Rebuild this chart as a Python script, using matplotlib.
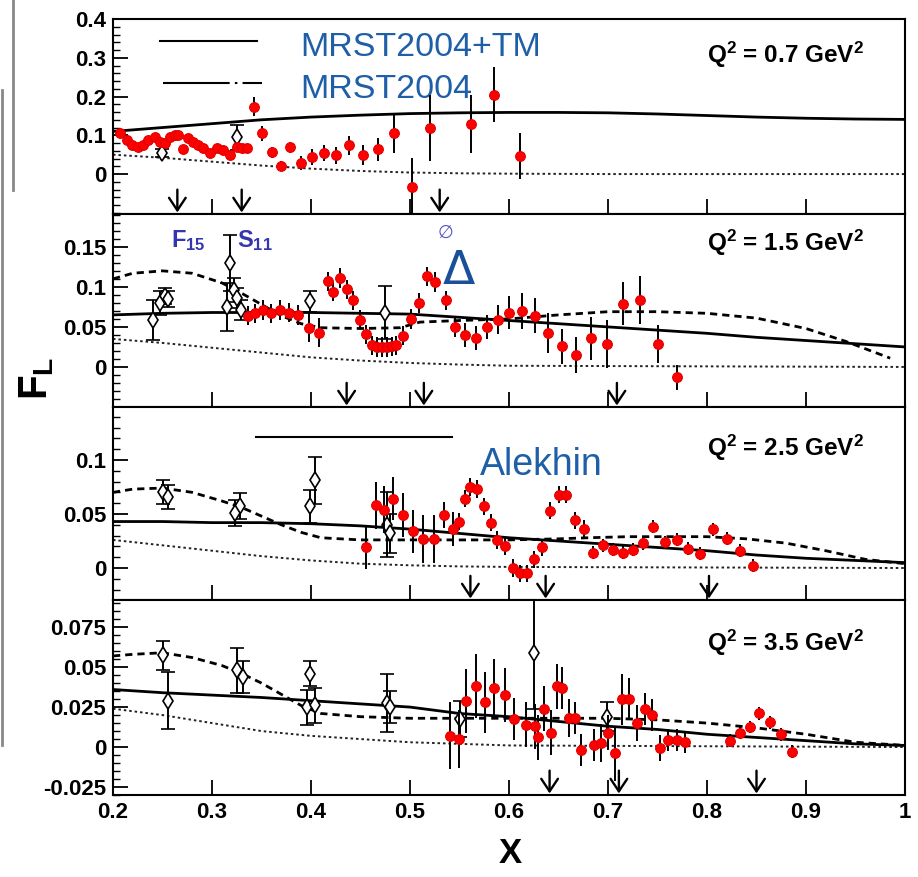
import matplotlib
matplotlib.use("Agg")
import matplotlib.pyplot as plt
import matplotlib.transforms as mtransforms
from matplotlib.ticker import MultipleLocator
from matplotlib.lines import Line2D

plt.rcParams['font.family'] = ['Liberation Sans', 'DejaVu Sans']
plt.rcParams['mathtext.default'] = 'regular'

# ---------------- Q2 = 0.7 GeV2 ----------------
p1_red_x = [0.207, 0.214, 0.219, 0.225, 0.230, 0.235, 0.242, 0.247, 0.253, 0.258, 0.263, 0.266,
            0.271, 0.276, 0.281, 0.286, 0.291, 0.298, 0.305, 0.311, 0.318, 0.325, 0.330, 0.335,
            0.342, 0.351, 0.361, 0.370, 0.379, 0.390, 0.401, 0.413, 0.425, 0.438, 0.453, 0.468,
            0.484, 0.502, 0.520, 0.562, 0.585, 0.611]
p1_red_y = [0.105, 0.087, 0.074, 0.069, 0.074, 0.087, 0.095, 0.082, 0.079, 0.095, 0.102, 0.100,
            0.064, 0.092, 0.082, 0.074, 0.067, 0.054, 0.067, 0.062, 0.049, 0.069, 0.067, 0.067,
            0.174, 0.105, 0.056, 0.021, 0.069, 0.028, 0.044, 0.054, 0.049, 0.074, 0.049, 0.064,
            0.105, -0.034, 0.118, 0.130, 0.205, 0.046]
p1_red_err = [0.010] * 24 + [0.025, 0.020, 0.015, 0.012, 0.015, 0.018, 0.020, 0.020, 0.022, 0.025,
                             0.025, 0.030, 0.050, 0.075, 0.085, 0.075, 0.070, 0.060]
p1_open_x = [0.249, 0.325]
p1_open_y = [0.054, 0.095]
p1_open_err = [0.010, 0.032]
p1_solid_x = [0.2, 0.25, 0.3, 0.35, 0.4, 0.45, 0.5, 0.55, 0.6, 0.65, 0.7, 0.75, 0.8, 0.85, 0.9, 0.95, 1.0]
p1_solid_y = [0.110, 0.120, 0.130, 0.140, 0.147, 0.152, 0.156, 0.158, 0.159, 0.159, 0.158, 0.155,
              0.151, 0.147, 0.144, 0.142, 0.141]
p1_dot_x = [0.2, 0.25, 0.3, 0.35, 0.4, 0.45, 0.5, 0.55, 0.6, 0.7, 1.0]
p1_dot_y = [0.050, 0.042, 0.032, 0.022, 0.014, 0.008, 0.004, 0.002, 0.001, 0.0, 0.0]
p1_arrows = [0.265, 0.330, 0.530]

# ---------------- Q2 = 1.5 GeV2 ----------------
p2_red_x = [0.336, 0.343, 0.352, 0.360, 0.369, 0.378, 0.387, 0.398, 0.408, 0.417, 0.422, 0.429,
            0.436, 0.442, 0.449, 0.456, 0.462, 0.467, 0.472, 0.477, 0.482, 0.486, 0.493, 0.501,
            0.509, 0.517, 0.525, 0.536, 0.545, 0.556, 0.567, 0.578, 0.589, 0.600, 0.613, 0.626,
            0.639, 0.654, 0.668, 0.683, 0.699, 0.715, 0.732, 0.750, 0.770]
p2_red_y = [0.064, 0.067, 0.071, 0.067, 0.071, 0.068, 0.065, 0.049, 0.043, 0.107, 0.094, 0.111,
            0.097, 0.083, 0.059, 0.041, 0.027, 0.025, 0.025, 0.025, 0.026, 0.027, 0.039, 0.060,
            0.080, 0.113, 0.106, 0.083, 0.050, 0.040, 0.036, 0.050, 0.059, 0.068, 0.070, 0.064,
            0.043, 0.026, 0.015, 0.036, 0.029, 0.079, 0.084, 0.029, -0.013]
p2_red_err = [0.012] * 7 + [0.018, 0.018] + [0.012] * 20 + \
             [0.015, 0.015, 0.015, 0.018, 0.020, 0.022, 0.022, 0.025, 0.022, 0.023, 0.027, 0.030,
              0.027, 0.030, 0.024, 0.016]
p2_open_x = [0.240, 0.247, 0.253, 0.256, 0.315, 0.318, 0.322, 0.325, 0.329, 0.399, 0.475]
p2_open_y = [0.059, 0.080, 0.089, 0.085, 0.075, 0.130, 0.096, 0.086, 0.071, 0.082, 0.068]
p2_open_err = [0.025, 0.015, 0.010, 0.010, 0.030, 0.035, 0.015, 0.012, 0.012, 0.013, 0.033]
p2_solid_x = [0.2, 0.25, 0.3, 0.35, 0.4, 0.45, 0.5, 0.55, 0.6, 0.65, 0.7, 0.75, 0.8, 0.85, 0.9, 0.95, 1.0]
p2_solid_y = [0.065, 0.067, 0.068, 0.068, 0.068, 0.067, 0.066, 0.062, 0.058, 0.054, 0.050, 0.046,
              0.042, 0.037, 0.033, 0.029, 0.025]
p2_dash_x = [0.2, 0.22, 0.25, 0.28, 0.31, 0.33, 0.35, 0.37, 0.39, 0.41, 0.45, 0.49, 0.51, 0.55,
             0.6, 0.65, 0.7, 0.75, 0.8, 0.85, 0.9, 0.94, 0.985]
p2_dash_y = [0.110, 0.117, 0.120, 0.117, 0.105, 0.092, 0.078, 0.064, 0.054, 0.049, 0.048, 0.049,
             0.056, 0.058, 0.060, 0.065, 0.069, 0.069, 0.067, 0.061, 0.048, 0.032, 0.011]
p2_dot_x = [0.2, 0.25, 0.3, 0.35, 0.4, 0.45, 0.5, 0.55, 0.6, 1.0]
p2_dot_y = [0.035, 0.030, 0.024, 0.018, 0.012, 0.008, 0.005, 0.003, 0.0015, 0.0]
p2_arrows = [0.436, 0.514, 0.709]

# ---------------- Q2 = 2.5 GeV2 ----------------
p3_red_x = [0.456, 0.466, 0.474, 0.483, 0.493, 0.503, 0.513, 0.524, 0.534, 0.543, 0.549, 0.556,
            0.561, 0.568, 0.575, 0.582, 0.588, 0.596, 0.604, 0.611, 0.618, 0.625, 0.633, 0.641,
            0.650, 0.658, 0.667, 0.676, 0.685, 0.695, 0.705, 0.715, 0.725, 0.735, 0.745, 0.758,
            0.770, 0.781, 0.793, 0.806, 0.820, 0.833, 0.846]
p3_red_y = [0.019, 0.058, 0.054, 0.064, 0.049, 0.034, 0.027, 0.027, 0.049, 0.036, 0.043, 0.064,
            0.075, 0.073, 0.057, 0.042, 0.026, 0.020, 0.000, -0.005, -0.005, 0.008, 0.019, 0.053,
            0.068, 0.068, 0.044, 0.036, 0.014, 0.021, 0.017, 0.014, 0.017, 0.023, 0.038, 0.024,
            0.026, 0.018, 0.013, 0.036, 0.027, 0.016, 0.002]
p3_red_err = [0.020, 0.022, 0.022, 0.020, 0.020, 0.020, 0.022, 0.022, 0.012, 0.016] + \
             [0.008] * 18 + [0.006] * 15
p3_open_x = [0.251, 0.256, 0.328, 0.323, 0.404, 0.399, 0.477, 0.480]
p3_open_y = [0.070, 0.066, 0.057, 0.051, 0.081, 0.057, 0.040, 0.032]
p3_open_err = [0.011, 0.011, 0.012, 0.012, 0.022, 0.015, 0.030, 0.018]
p3_solid_x = [0.2, 0.25, 0.3, 0.35, 0.4, 0.45, 0.5, 0.55, 0.6, 0.65, 0.7, 0.75, 0.8, 0.85, 0.9, 0.95, 1.0]
p3_solid_y = [0.043, 0.043, 0.042, 0.042, 0.041, 0.039, 0.036, 0.032, 0.028, 0.025, 0.022, 0.019,
              0.016, 0.012, 0.009, 0.007, 0.005]
p3_dash_x = [0.2, 0.22, 0.25, 0.28, 0.31, 0.33, 0.35, 0.37, 0.39, 0.41, 0.45, 0.5, 0.55, 0.6,
             0.65, 0.68, 0.72, 0.76, 0.8, 0.84, 0.88, 0.92, 0.96, 1.0]
p3_dash_y = [0.070, 0.073, 0.074, 0.070, 0.062, 0.056, 0.048, 0.040, 0.033, 0.028, 0.026, 0.026,
             0.026, 0.026, 0.027, 0.028, 0.029, 0.029, 0.029, 0.027, 0.023, 0.016, 0.008, 0.004]
p3_dot_x = [0.2, 0.25, 0.3, 0.35, 0.4, 0.45, 0.5, 0.55, 0.6, 1.0]
p3_dot_y = [0.026, 0.021, 0.016, 0.011, 0.007, 0.004, 0.0025, 0.0015, 0.001, 0.0]
p3_arrows = [0.561, 0.637, 0.802]

# ---------------- Q2 = 3.5 GeV2 ----------------
p4_red_x = [0.540, 0.549, 0.557, 0.567, 0.576, 0.585, 0.596, 0.605, 0.617, 0.626, 0.629, 0.635,
            0.642, 0.648, 0.654, 0.661, 0.667, 0.673, 0.686, 0.693, 0.700, 0.707, 0.714, 0.721,
            0.729, 0.737, 0.744, 0.753, 0.761, 0.770, 0.778, 0.823, 0.833, 0.843, 0.853, 0.864,
            0.875, 0.886]
p4_red_y = [0.007, 0.005, 0.029, 0.038, 0.028, 0.037, 0.0325, 0.0175, 0.014, 0.013, 0.006, 0.024,
            0.009, 0.038, 0.037, 0.018, 0.018, -0.002, 0.001, 0.0025, 0.009, -0.004, 0.030, 0.030,
            0.015, 0.024, 0.020, -0.0006, 0.0045, 0.0045, 0.003, 0.004, 0.009, 0.0125, 0.021,
            0.0155, 0.008, -0.003]
p4_red_err = [0.021, 0.018, 0.020, 0.020, 0.019, 0.018, 0.017, 0.013, 0.014, 0.014, 0.014, 0.014,
              0.014, 0.014, 0.013, 0.012, 0.010, 0.010, 0.010, 0.012, 0.011, 0.017, 0.016, 0.013,
              0.011, 0.010, 0.010, 0.008, 0.007, 0.007, 0.007, 0.004, 0.004, 0.004, 0.004, 0.004,
              0.004, 0.004]
p4_open_x = [0.250, 0.256, 0.325, 0.331, 0.399, 0.396, 0.404, 0.477, 0.480, 0.550, 0.625, 0.699]
p4_open_y = [0.0575, 0.029, 0.048, 0.044, 0.046, 0.025, 0.026, 0.0275, 0.025, 0.0175, 0.059, 0.019]
p4_open_err = [0.009, 0.018, 0.014, 0.010, 0.008, 0.011, 0.011, 0.018, 0.010, 0.011, 0.035, 0.009]
p4_solid_x = [0.2, 0.25, 0.3, 0.35, 0.4, 0.45, 0.5, 0.55, 0.6, 0.65, 0.7, 0.75, 0.8, 0.85, 0.9, 0.95, 1.0]
p4_solid_y = [0.036, 0.034, 0.0325, 0.031, 0.029, 0.027, 0.025, 0.021, 0.019, 0.016, 0.013, 0.011,
              0.008, 0.006, 0.004, 0.002, 0.001]
p4_dash_x = [0.2, 0.22, 0.25, 0.28, 0.31, 0.33, 0.35, 0.37, 0.39, 0.41, 0.45, 0.5, 0.55, 0.6,
             0.65, 0.7, 0.75, 0.8, 0.85, 0.9, 0.95, 1.0]
p4_dash_y = [0.057, 0.058, 0.059, 0.056, 0.051, 0.046, 0.040, 0.033, 0.026, 0.021, 0.019, 0.018,
             0.018, 0.018, 0.018, 0.018, 0.017, 0.015, 0.012, 0.008, 0.003, 0.001]
p4_dot_x = [0.2, 0.25, 0.3, 0.35, 0.4, 0.45, 0.5, 0.55, 0.6, 1.0]
p4_dot_y = [0.024, 0.020, 0.015, 0.010, 0.007, 0.005, 0.003, 0.002, 0.001, 0.0]
p4_arrows = [0.641, 0.711, 0.850]

# ---------------- axis setup ----------------
q2_labels = ["0.7", "1.5", "2.5", "3.5"]
x_ticks = [0.2, 0.3, 0.4, 0.5, 0.6, 0.7, 0.8, 0.9, 1.0]
x_ticklabels = ["0.2", "0.3", "0.4", "0.5", "0.6", "0.7", "0.8", "0.9", "1"]
y_limits = [(-0.103, 0.40), (-0.05, 0.191), (-0.0296, 0.149), (-0.030, 0.092)]
y_ticks = [[0, 0.1, 0.2, 0.3, 0.4], [0, 0.05, 0.1, 0.15], [0, 0.05, 0.1],
           [-0.025, 0, 0.025, 0.05, 0.075]]
y_ticklabels = [["0", "0.1", "0.2", "0.3", "0.4"], ["0", "0.05", "0.1", "0.15"],
                ["0", "0.05", "0.1"], ["-0.025", "0", "0.025", "0.05", "0.075"]]
y_minor = [0.02, 0.01, 0.01, 0.005]

fig = plt.figure(figsize=(9.18, 8.77), dpi=100)
H, W = 877.0, 918.0
left, width = 113 / W, 792 / W
panel_px = [(19, 214), (214, 407), (407, 600), (600, 795)]

panels = [
    dict(red=(p1_red_x, p1_red_y, p1_red_err), opn=(p1_open_x, p1_open_y, p1_open_err),
         solid=(p1_solid_x, p1_solid_y), dash=None, dot=(p1_dot_x, p1_dot_y), arrows=p1_arrows,
         qy=0.815),
    dict(red=(p2_red_x, p2_red_y, p2_red_err), opn=(p2_open_x, p2_open_y, p2_open_err),
         solid=(p2_solid_x, p2_solid_y), dash=(p2_dash_x, p2_dash_y), dot=(p2_dot_x, p2_dot_y),
         arrows=p2_arrows, qy=0.85),
    dict(red=(p3_red_x, p3_red_y, p3_red_err), opn=(p3_open_x, p3_open_y, p3_open_err),
         solid=(p3_solid_x, p3_solid_y), dash=(p3_dash_x, p3_dash_y), dot=(p3_dot_x, p3_dot_y),
         arrows=p3_arrows, qy=0.79),
    dict(red=(p4_red_x, p4_red_y, p4_red_err), opn=(p4_open_x, p4_open_y, p4_open_err),
         solid=(p4_solid_x, p4_solid_y), dash=(p4_dash_x, p4_dash_y), dot=(p4_dot_x, p4_dot_y),
         arrows=p4_arrows, qy=0.78),
]

axes = []
for i, p in enumerate(panels):
    top_px, bot_px = panel_px[i]
    ax = fig.add_axes([left, 1 - bot_px / H, width, (bot_px - top_px) / H])
    axes.append(ax)
    ax.set_xlim(0.2, 1.0)
    ax.set_ylim(*y_limits[i])
    for s in ax.spines.values():
        s.set_linewidth(1.5)

    # theory curves
    ax.plot(*p['dot'], color='#222222', lw=1.4, ls=(0, (1.3, 1.5)), zorder=2)
    if p['dash'] is not None:
        ax.plot(*p['dash'], color='black', lw=2.0, ls=(0, (2.6, 1.8)), zorder=2)
    ax.plot(*p['solid'], color='black', lw=2.0, zorder=2)

    # open-symbol data with capped error bars
    ox, oy, oe = p['opn']
    ax.errorbar(ox, oy, yerr=oe, fmt='d', ms=8, mfc='white', mec='black', mew=1.2,
                ecolor='black', elinewidth=1.4, capsize=5, capthick=1.4, zorder=3)
    # red data points
    rx, ry, re = p['red']
    ax.errorbar(rx, ry, yerr=re, fmt='o', ms=7, mfc='#ff0000', mec='#e00000', mew=0.8,
                ecolor='black', elinewidth=1.4, capsize=0, zorder=4)

    # resonance position arrows
    trans = mtransforms.blended_transform_factory(ax.transData, ax.transAxes)
    for xa in p['arrows']:
        ax.annotate('', xy=(xa, 0.008), xytext=(xa, 0.125), xycoords=trans, textcoords=trans,
                    arrowprops=dict(arrowstyle='->,head_length=0.9,head_width=0.6',
                                    lw=1.7, color='black', shrinkA=0, shrinkB=0), zorder=5)

    ax.text(0.75, p['qy'], "Q$^{2}$ = " + q2_labels[i] + " GeV$^{2}$", transform=ax.transAxes,
            fontsize=17.5, fontweight='bold', ha='left', va='center')

    ax.set_yticks(y_ticks[i])
    ax.set_yticklabels(y_ticklabels[i], fontsize=16, fontweight='bold')
    ax.yaxis.set_minor_locator(MultipleLocator(y_minor[i]))
    ax.set_xticks(x_ticks)
    if i == 3:
        ax.set_xticklabels(x_ticklabels, fontsize=16, fontweight='bold')
    else:
        ax.set_xticklabels([])
    ax.tick_params(axis='both', which='both', direction='in', top=False, right=False)
    ax.tick_params(axis='both', which='major', length=11, width=1.3, pad=5)
    ax.tick_params(axis='y', which='minor', length=5, width=1.0)
    ax.tick_params(axis='x', which='minor', bottom=False)

ax1, ax2, ax3, ax4 = axes
blue = '#1f5fa8'

# legend of the top panel
t1 = mtransforms.blended_transform_factory(ax1.transData, ax1.transAxes)
ax1.add_line(Line2D([0.2475, 0.3455], [0.887, 0.887], transform=t1, color='black', lw=1.5))
ax1.add_line(Line2D([0.2505, 0.3505], [0.672, 0.672], transform=t1, color='black', lw=1.5,
                    ls=(0, (32, 2.5, 1.2, 2.5, 15, 200))))
ax1.text(0.389, 0.855, "MRST2004+TM", transform=t1, fontsize=24.5, color=blue, ha='left', va='center')
ax1.text(0.389, 0.64, "MRST2004", transform=t1, fontsize=24.5, color=blue, ha='left', va='center')

# resonance labels
t2 = mtransforms.blended_transform_factory(ax2.transData, ax2.transAxes)
ax2.text(0.259, 0.865, "F$_{15}$", transform=t2, fontsize=17, fontweight='bold',
         color='#3535b0', ha='left', va='center')
ax2.text(0.325, 0.865, "S$_{11}$", transform=t2, fontsize=17, fontweight='bold',
         color='#3535b0', ha='left', va='center')
ax2.text(0.536, 0.90, "\u2205", transform=t2, fontsize=13, color='#5555c8',
         ha='center', va='center', family='DejaVu Sans')
ax2.text(0.549, 0.70, "\u0394", transform=t2, fontsize=34, color='#1a4f9a',
         ha='center', va='center', family='DejaVu Sans')

# Alekhin curve label
t3 = mtransforms.blended_transform_factory(ax3.transData, ax3.transAxes)
ax3.add_line(Line2D([0.344, 0.496], [0.121, 0.121], color='black', lw=1.5))
ax3.add_line(Line2D([0.498, 0.542], [0.121, 0.121], color='black', lw=1.5))
ax3.text(0.571, 0.70, "Alekhin", transform=t3, fontsize=27, color=blue, ha='left', va='center')

# axis titles
fig.text(0.040, 0.569, "F$_{L}$", rotation=90, fontsize=29, fontweight='bold',
         ha='center', va='center')
fig.text(0.556, 0.027, "X", fontsize=25, fontweight='bold', ha='center', va='center')

# frame edges at the left border
fig.add_artist(Line2D([13 / W, 13 / W], [1.0, 1 - 190 / H], color='#888888', lw=2))
fig.add_artist(Line2D([1.5 / W, 1.5 / W], [1 - 90 / H, 1 - 745 / H], color='#888888', lw=2))

fig.savefig("out.png", dpi=100)
